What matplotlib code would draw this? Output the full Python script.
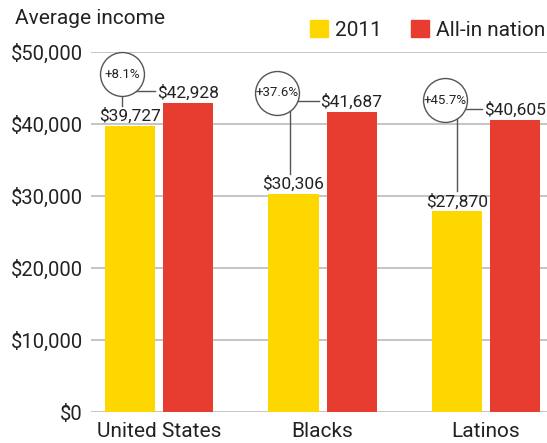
import numpy as np
import matplotlib.pyplot as plt
from matplotlib.patches import Patch

plt.rcParams['font.family'] = ['Roboto', 'DejaVu Sans']

groups = ['United States', 'Blacks', 'Latinos']
income_2011 = [39727, 30306, 27870]
income_allin = [42928, 41687, 40605]
changes = ['+8.1%', '+37.6%', '+45.7%']
y_ticks = [0, 10000, 20000, 30000, 40000, 50000]

yellow = '#FFD700'
red = '#E63D30'
gray = '#555555'
ink = '#222222'

fig = plt.figure(figsize=(5.47, 4.43), dpi=100)
ax = fig.add_axes([91 / 547, 31 / 443, 456 / 547, 360 / 443])

x = np.arange(len(groups))
w = 0.307
off = 0.178
ax.bar(x - off, income_2011, w, color=yellow, zorder=2)
ax.bar(x + off, income_allin, w, color=red, zorder=2)

ax.set_xlim(-0.416, 2.373)
ax.set_ylim(0, 50000)
ax.set_yticks(y_ticks)
ax.set_yticklabels(['$' + format(v, ',') for v in y_ticks], fontsize=14.5, color=ink)
ax.set_xticks(x)
ax.set_xticklabels(groups, fontsize=15, color=ink)
ax.tick_params(length=0, pad=6)
ax.tick_params(axis='x', pad=7)
ax.grid(axis='y', color='#bbbbbb', linewidth=1.2, zorder=0)
for s in ax.spines.values():
    s.set_visible(False)

# pixel -> data helpers
px_x = 1 / 163.5
px_y = 50000 / 360

# circle placement (pixel offsets from yellow bar centre, data y above red value)
circ_dx = [-8, -16, -12]
circ_dy = [4010, 2620, 2725]
line_dx = [0, 13, 12]
hline_dy = [17, 8, 9]

for i in range(len(groups)):
    xy = x[i] - off
    xr = x[i] + off
    ax.text(xy, income_2011[i] + 2 * px_y, '$' + format(income_2011[i], ','),
            ha='center', va='bottom', fontsize=12.5, color=ink, zorder=4)
    ax.text(xr, income_allin[i] + 2 * px_y, '$' + format(income_allin[i], ','),
            ha='center', va='bottom', fontsize=12.5, color=ink, zorder=4)
    cx = xy + circ_dx[i] * px_x
    cy = income_allin[i] + circ_dy[i]
    # vertical connector
    lx = cx + line_dx[i] * px_x
    ax.plot([lx, lx], [cy, income_2011[i] + 20 * px_y], color=gray, lw=1, zorder=3)
    # horizontal connector
    hy = cy - hline_dy[i] * px_y
    ax.plot([cx, xr - 33 * px_x], [hy, hy], color=gray, lw=1, zorder=3)
    ax.scatter([cx], [cy], s=1000, facecolor='white', edgecolor=gray,
               linewidth=1, zorder=5, clip_on=False)
    ax.text(cx, cy, changes[i], ha='center', va='center', fontsize=9.5, color=ink, zorder=6)

fig.text(15 / 547, 1 - 18 / 443, 'Average income', fontsize=15, color=ink,
         va='center', ha='left')
handles = [Patch(color=yellow), Patch(color=red)]
leg = fig.legend(handles, ['2011', 'All-in nation'], loc='center left',
                 bbox_to_anchor=(310 / 547, 1 - 30 / 443), ncol=2, frameon=False,
                 fontsize=15, handlelength=0.87, handleheight=0.87, handletextpad=0.34,
                 columnspacing=1.4, borderpad=0, borderaxespad=0)
for t in leg.get_texts():
    t.set_color(ink)

fig.savefig('out.png', dpi=100)
